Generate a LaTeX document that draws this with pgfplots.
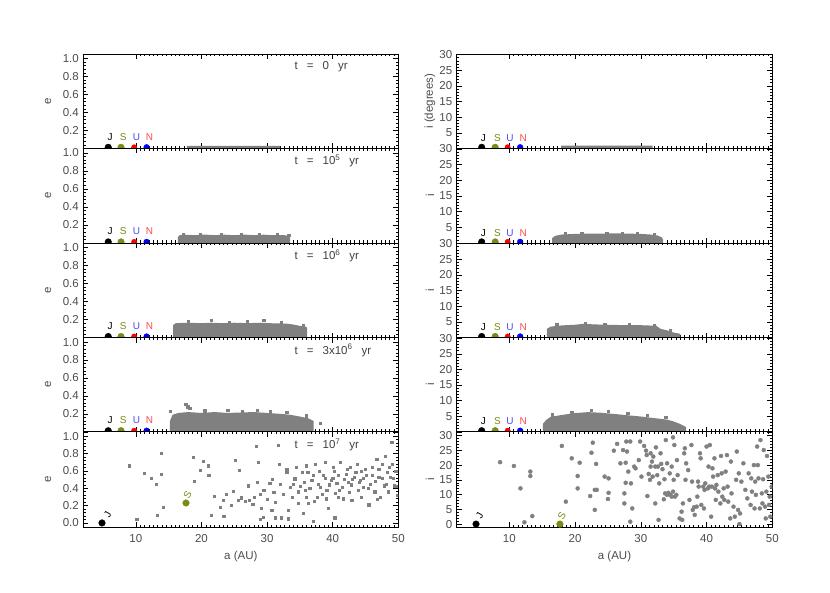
\documentclass[border=0pt]{standalone}
\usepackage{fontspec}
\setmainfont{Liberation Sans}
\usepackage{pgfplots}
\pgfplotsset{compat=1.18}
\definecolor{ptc}{RGB}{128,128,128}
\definecolor{olv}{RGB}{118,140,20}
\newcommand{\tfont}{\fontsize{11.5}{13}\selectfont}
\newcommand{\lfont}{\fontsize{10}{12}\selectfont}
\pgfplotsset{
 panel/.style={
   scale only axis, width=315pt,
   xmin=2, xmax=50,
   axis line style={black, line width=0.6pt},
   every tick/.style={black, line width=0.5pt},
   tick align=inside,
   major tick length=5pt, minor tick length=2.5pt,
   xtick={10,20,30,40,50}, minor x tick num=14,
   xticklabels={},
   clip marker paths=true,
   tick label style={font=\tfont, text=black!70},
   label style={font=\tfont, text=black!70},
   xticklabel style={yshift=-4pt},
   yticklabel style={xshift=-1pt},
   /pgf/number format/assume math mode=true,
   xlabel style={at={(axis description cs:0.5,-0.308)}, anchor=center},
 },
 epanel/.style={panel, ymin=0, ymax=1.05,
   ytick={0,0.2,0.4,0.6,0.8,1.0}, yticklabels={,0.2,0.4,0.6,0.8,1.0},
   minor y tick num=4, ylabel={e},
   ylabel style={at={(axis description cs:-0.112,0.5)}, anchor=center}},
 ipanel/.style={panel, ymin=0, ymax=30.2,
   ytick={0,5,10,15,20,25,30}, yticklabels={,5,10,15,20,25,30},
   minor y tick num=4, ylabel={i},
   ylabel style={at={(axis description cs:-0.085,0.5)}, anchor=center}},
 cloud/.style={only marks, mark=square*, mark size=1.1pt, color=ptc},
 cloudi/.style={only marks, mark=*, mark size=2pt, color=ptc},
 band/.style={fill=ptc, draw=none},
}
\newcommand{\planetsE}{%
 \addplot[only marks, mark=*, mark size=3.3pt, color=black] coordinates {(5.8,0.012)};
 \addplot[only marks, mark=*, mark size=3.3pt, color=olv] coordinates {(7.75,0.012)};
 \addplot[only marks, mark=*, mark size=2.7pt, color=red] coordinates {(9.75,0.012)};
 \addplot[only marks, mark=*, mark size=2.9pt, color=blue] coordinates {(11.65,0.012)};
 \node[font=\lfont, text=black] at (axis cs:6.1,0.13) {J};
 \node[font=\lfont, text=olv] at (axis cs:8.1,0.13) {S};
 \node[font=\lfont, text=blue!70] at (axis cs:10.1,0.13) {U};
 \node[font=\lfont, text=red!70] at (axis cs:12.1,0.13) {N};
}
\newcommand{\planetsI}{%
 \addplot[only marks, mark=*, mark size=3.3pt, color=black] coordinates {(5.8,0.35)};
 \addplot[only marks, mark=*, mark size=3.3pt, color=olv] coordinates {(7.85,0.35)};
 \addplot[only marks, mark=*, mark size=2.7pt, color=red] coordinates {(9.75,0.35)};
 \addplot[only marks, mark=*, mark size=2.9pt, color=blue] coordinates {(11.65,0.35)};
 \node[font=\lfont, text=black] at (axis cs:6.05,3.3) {J};
 \node[font=\lfont, text=olv] at (axis cs:8.2,3.3) {S};
 \node[font=\lfont, text=blue!70] at (axis cs:10.1,3.3) {U};
 \node[font=\lfont, text=red!70] at (axis cs:12.1,3.3) {N};
}
\newcommand{\tlabel}[1]{\node[anchor=west, font=\tfont, text=black!75] at (rel axis cs:0.66,0.865) {#1};}
\begin{document}
\begin{tikzpicture}
\path[use as bounding box] (0,0) rectangle (830pt,593pt);
% ---------- Row 1: t = 0 ----------
\begin{axis}[epanel, at={(83.3pt,444.6pt)}, anchor=south west, height=94.4pt]
 \addplot[band] coordinates {(17.8,0) (17.8,0.028) (32.0,0.028) (32.0,0)} \closedcycle;
 \planetsE
 \tlabel{t\hspace{9pt}=\hspace{9pt}0\hspace{9pt}yr}
\end{axis}
\begin{axis}[ipanel, at={(456.7pt,444.6pt)}, anchor=south west, height=94.4pt, width=315.6pt, ylabel={i (degrees)}]
 \addplot[band] coordinates {(17.9,0) (17.9,0.85) (31.8,0.85) (31.8,0)} \closedcycle;
 \planetsI
\end{axis}
% ---------- Row 2: t = 1e5 ----------
\begin{axis}[epanel, at={(83.3pt,350pt)}, anchor=south west, height=94.6pt]
 \addplot[band] coordinates {(16.4,0) (16.4,0.06) (16.6,0.085) (17.5,0.092) (19,0.087) (20.5,0.093) (22,0.087) (23.5,0.092) (25,0.086) (26.5,0.093) (28,0.087) (29.5,0.092) (31,0.086) (32.5,0.088) (33.2,0.08) (33.5,0.06) (33.5,0)} \closedcycle;
 \addplot[cloud] coordinates {(17.2,0.097) (19.8,0.099) (23.0,0.098) (26.0,0.1) (28.8,0.097) (31.5,0.095) (33.3,0.088)};
 \planetsE
 \tlabel{t\hspace{9pt}=\hspace{9pt}10\textsuperscript{5}\hspace{9pt}yr}
\end{axis}
\begin{axis}[ipanel, at={(456.7pt,350pt)}, anchor=south west, height=94.6pt, width=315.6pt]
 \addplot[band] coordinates {(16.5,0) (16.5,1.5) (17,2.3) (18,2.7) (20,2.9) (22,3.0) (24,3.0) (26,3.1) (28,3.0) (30,2.9) (31.5,2.7) (32.5,2.4) (33.2,1.8) (33.4,1.0) (33.4,0)} \closedcycle;
 \addplot[cloud] coordinates {(18.5,2.95) (21.0,3.15) (24.8,3.25) (27.2,3.2) (29.5,3.1) (32.0,2.7)};
 \planetsI
\end{axis}
% ---------- Row 3: t = 1e6 ----------
\begin{axis}[epanel, at={(83.3pt,255.4pt)}, anchor=south west, height=94.6pt]
 \addplot[band] coordinates {(15.7,0) (15.7,0.14) (16.1,0.16) (18,0.165) (20,0.16) (21.5,0.165) (23,0.16) (25,0.165) (27,0.16) (29,0.165) (31,0.158) (33,0.155) (34,0.145) (35,0.13) (35.8,0.125) (36.1,0.11) (36.1,0)} \closedcycle;
 \addplot[cloud] coordinates {(18.0,0.18) (21.5,0.19) (24.2,0.175) (27.0,0.178) (29.5,0.19) (32.2,0.17) (35.5,0.138)};
 \planetsE
 \tlabel{t\hspace{9pt}=\hspace{9pt}10\textsuperscript{6}\hspace{9pt}yr}
\end{axis}
\begin{axis}[ipanel, at={(456.7pt,255.4pt)}, anchor=south west, height=94.6pt, width=315.6pt]
 \addplot[band] coordinates {(15.7,0) (15.7,2.8) (16.3,3.5) (18,3.9) (20,4.1) (21.3,4.4) (23,4.2) (25,4.1) (27,4.0) (29,4.0) (31,3.9) (32.4,3.7) (33,2.8) (34,2.3) (35,1.6) (36,1.2) (36,0)} \closedcycle;
 \addplot[cloud] coordinates {(17.2,4.1) (21.5,4.7) (24.5,4.4) (28.2,4.3) (32.0,4.0) (34.5,2.4)};
 \planetsI
\end{axis}
% ---------- Row 4: t = 3e6 ----------
\begin{axis}[epanel, at={(83.3pt,161.2pt)}, anchor=south west, height=94.2pt]
 \addplot[band] coordinates {(15.2,0) (15.2,0.12) (15.6,0.19) (16.5,0.21) (18,0.22) (20,0.21) (22,0.22) (24,0.21) (26,0.215) (28,0.22) (30,0.21) (32,0.2) (33.5,0.19) (35,0.17) (36.3,0.15) (37.1,0.12) (37.1,0)} \closedcycle;
 \addplot[cloud] coordinates {(17.6,0.31) (17.9,0.28) (18.2,0.26) (15.3,0.23) (38.1,0.1) (24,0.24) (28.5,0.24) (33,0.22) (20.5,0.235) (30.5,0.225) (26.2,0.23) (36.0,0.18)};
 \planetsE
 \tlabel{t\hspace{9pt}=\hspace{9pt}3x10\textsuperscript{6}\hspace{9pt}yr}
\end{axis}
\begin{axis}[ipanel, at={(456.7pt,161.2pt)}, anchor=south west, height=94.2pt, width=315.6pt]
 \addplot[band] coordinates {(15.1,0) (15.1,2.5) (15.6,3.8) (16.3,4.8) (18,5.4) (20,6.0) (22,6.3) (24,6.1) (26,5.7) (28,5.3) (30,4.9) (32,4.4) (34,3.9) (35,3.3) (36,2.5) (36.9,1.5) (36.9,0)} \closedcycle;
 \addplot[cloud] coordinates {(22.5,7.0) (16.5,5.5) (28,5.9) (33.8,4.6) (19.5,6.2) (25,6.5) (31,5.2)};
 \planetsI
\end{axis}
% ---------- Row 5: t = 1e7 ----------
\begin{axis}[epanel, at={(83.3pt,65.7pt)}, anchor=south west, height=95.5pt,
   ymin=-0.05, ytick={0,0.2,0.4,0.6,0.8,1.0}, yticklabels={0.0,0.2,0.4,0.6,0.8,1.0},
   xticklabels={10,20,30,40,50}, xlabel={a (AU)}]
 \addplot[cloud] coordinates {
 (9.0,0.66) (10.15,0.04) (11.3,0.57) (12.4,0.52) (13.1,0.45) (13.2,0.09) (13.9,0.80) (13.9,0.56) (14.2,0.18)
 (18.7,0.76) (18.9,0.48) (20.3,0.71) (19.8,0.61) (21.0,0.66) (21.1,0.55) (21.5,0.09) (22.0,0.31) (22.9,0.18)
 (23.3,0.26) (23.4,0.08) (23.8,0.33) (24.8,0.37) (25.2,0.72) (25.6,0.26) (25.8,0.61) (26.1,0.29) (26.7,0.25)
 (27.1,0.43) (27.3,0.26) (28.1,0.30) (28.4,0.88) (28.5,0.47) (28.7,0.70) (28.9,0.04) (29.1,0.17) (29.4,0.07)
 (29.5,0.38) (30.4,0.46) (30.7,0.15) (31.2,0.24) (31.3,0.06) (31.7,0.90) (31.8,0.68) (32.1,0.06) (32.4,0.33)
 (33.0,0.58) (33.2,0.15) (33.2,0.05) (33.5,0.41) (34.2,0.51) (34.5,0.64) (34.7,0.23) (35.3,0.58) (35.5,0.11)
 (35.8,0.38) (36.0,0.66) (36.3,0.23) (36.8,0.49) (37.0,0.02) (37.3,0.68) (37.6,0.30) (38.1,0.41) (38.6,0.55)
 (38.8,0.70) (39.1,0.38) (39.3,0.17) (39.8,0.49) (40.1,0.64) (40.3,0.06) (40.4,0.34) (40.9,0.55) (41.1,0.70)
 (41.4,0.41) (41.6,0.28) (42.0,0.56) (42.4,0.47) (42.7,0.64) (42.9,0.26) (43.3,0.53) (43.7,0.68) (43.9,0.38)
 (44.2,0.49) (44.4,0.60) (44.7,0.41) (45.1,0.55) (45.5,0.21) (45.7,0.45) (46.0,0.64) (46.4,0.36) (46.7,0.73)
 (47.0,0.53) (47.2,0.30) (47.5,0.68) (47.8,0.43) (48.0,0.77) (48.3,0.58) (48.5,0.36) (48.8,0.53) (49.0,0.93)
 (49.1,0.68) (49.4,0.43) (49.6,0.60) (49.8,0.32)
 (34.0,0.45) (34.8,0.36) (35.6,0.47) (36.5,0.40) (37.0,0.55) (37.8,0.45) (38.4,0.33) (38.9,0.52) (39.5,0.44)
 (40.0,0.52) (40.6,0.46) (41.0,0.38) (41.8,0.50) (42.2,0.62) (42.8,0.44) (43.5,0.58) (44.0,0.47) (44.6,0.52)
 (45.0,0.62) (45.4,0.40) (46.0,0.55) (46.5,0.48) (47.0,0.62) (47.6,0.52) (48.2,0.45) (48.6,0.64) (49.2,0.52)
 (49.7,0.42) (36.0,0.30) (37.2,0.25) (39.0,0.28) (40.8,0.30) (42.5,0.35) (44.3,0.30) (46.8,0.27) (31.0,0.35)
 (30.0,0.27) (29.0,0.33) (27.8,0.22) (26.0,0.30) (24.5,0.20) (33.8,0.30) (35.0,0.42) (32.0,0.45) (30.8,0.50)
 (33.0,0.62) (36.2,0.58) (38.0,0.60) (40.2,0.60) (43.0,0.50)};
 \addplot[only marks, mark=*, mark size=3.3pt, color=black] coordinates {(4.85,0.0)};
 \addplot[only marks, mark=*, mark size=3.3pt, color=olv] coordinates {(17.65,0.23)};
 \node[font=\lfont, text=black, rotate=60] at (axis cs:5.7,0.1) {J};
 \node[font=\lfont, text=olv, rotate=60] at (axis cs:17.9,0.32) {S};
 \tlabel{t\hspace{9pt}=\hspace{9pt}10\textsuperscript{7}\hspace{9pt}yr}
\end{axis}
\begin{axis}[ipanel, at={(456.7pt,65.7pt)}, anchor=south west, height=95.5pt, width=315.6pt,
   ymin=-1.1, ymax=31.3, yticklabels={0,5,10,15,20,25,30},
   xticklabels={10,20,30,40,50}, xlabel={a (AU)}]
 \addplot[cloudi] coordinates {
 (8.6,21.0) (10.7,19.7) (11.7,12.1) (12.3,0.6) (13.2,17.8) (13.2,16.3) (13.5,2.7) (18.0,26.5) (18.6,7.6)
 (19.5,22.3) (20.4,16.3) (20.4,12.1) (20.7,20.8) (22.3,9.5) (22.5,24.2) (22.7,27.6) (23.0,11.6) (23.0,4.8)
 (23.2,20.4) (23.3,11.6) (24.5,16.1) (25.0,8.5) (25.1,15.5) (25.1,10.6) (25.9,24.9) (26.4,27.2) (26.9,20.6)
 (27.3,25.1) (27.5,10.4) (27.5,7.0) (27.7,14.0) (27.7,20.8) (27.8,28.0) (27.9,24.6) (28.1,17.8) (28.4,28.0)
 (28.4,0.8) (28.5,13.8) (28.7,5.3) (29.0,19.5) (29.2,18.9) (29.7,21.7) (29.9,28.0) (30.1,16.1) (30.5,26.5)
 (30.8,24.9) (30.9,23.4) (31.0,9.5) (31.2,17.0) (31.4,15.0) (31.5,24.0) (31.5,19.5) (31.7,21.2) (31.8,16.1)
 (31.9,22.9) (32.2,19.5) (32.2,7.0) (32.3,26.0) (32.5,16.6) (32.6,19.5) (32.7,1.4) (32.8,13.8) (33.0,24.0)
 (33.1,20.4) (33.3,18.6) (33.5,8.4) (33.6,15.2) (33.7,10.4) (33.8,28.5) (34.0,20.6) (34.0,9.9) (34.2,10.6)
 (34.4,17.2) (34.5,9.9) (34.7,9.3) (34.7,19.5) (34.9,29.4) (34.9,11.0) (35.0,15.0) (35.1,26.8) (35.2,9.3)
 (35.4,9.9) (35.5,21.7) (35.6,16.6) (35.9,1.9) (36.2,4.2) (36.3,1.4) (36.4,7.0) (36.6,24.0) (36.7,25.7)
 (36.8,15.0) (36.9,20.6) (37.2,18.3) (37.4,8.2) (37.7,26.8) (37.8,14.4) (37.9,4.8) (38.1,5.7) (38.2,3.1)
 (38.5,5.9) (38.6,9.3) (38.7,14.4) (38.8,12.7) (39.0,24.0) (39.1,22.3) (39.2,6.5) (39.5,12.7) (39.6,5.3)
 (39.7,11.6) (39.8,13.8) (40.0,26.3) (40.2,12.1) (40.3,19.5) (40.4,12.7) (40.5,26.8) (40.7,2.5) (40.8,12.7)
 (40.9,18.9) (41.0,16.1) (41.2,22.3) (41.3,12.1) (41.4,8.2) (41.5,13.3) (41.7,16.6) (41.8,11.0) (42.1,7.0)
 (42.2,23.1) (42.3,17.2) (42.4,9.3) (42.6,12.1) (42.7,8.2) (42.9,17.8) (43.1,23.4) (43.2,12.7) (43.3,7.6)
 (43.6,1.9) (43.7,21.2) (43.8,10.4) (44.1,5.9) (44.3,2.5) (44.5,15.0) (44.6,24.6) (44.8,4.8) (44.9,17.2)
 (45.0,0.0) (45.1,3.6) (45.3,14.4) (45.6,20.6) (45.9,11.6) (46.2,8.7) (46.4,17.2) (46.7,6.5) (46.8,15.5)
 (46.9,11.0) (47.2,20.0) (47.3,5.3) (47.4,14.4) (47.5,9.9) (47.7,26.3) (47.8,20.0) (47.9,15.5) (48.1,5.3)
 (48.2,28.5) (48.4,10.4) (48.5,7.0) (48.6,15.2) (48.7,25.1) (48.9,5.9) (49.0,1.9) (49.1,11.0) (49.2,23.1)
 (49.4,16.1) (49.5,6.5) (49.6,9.3) (49.7,2.5) (49.9,12.7)};
 \addplot[only marks, mark=*, mark size=3.3pt, color=black] coordinates {(4.94,0.0)};
 \addplot[only marks, mark=*, mark size=3.3pt, color=olv] coordinates {(17.7,0.0)};
 \node[font=\lfont, text=black, rotate=60] at (axis cs:5.5,3.0) {J};
 \node[font=\lfont, text=olv, rotate=60] at (axis cs:18.0,2.7) {S};
\end{axis}
\end{tikzpicture}
\end{document}
